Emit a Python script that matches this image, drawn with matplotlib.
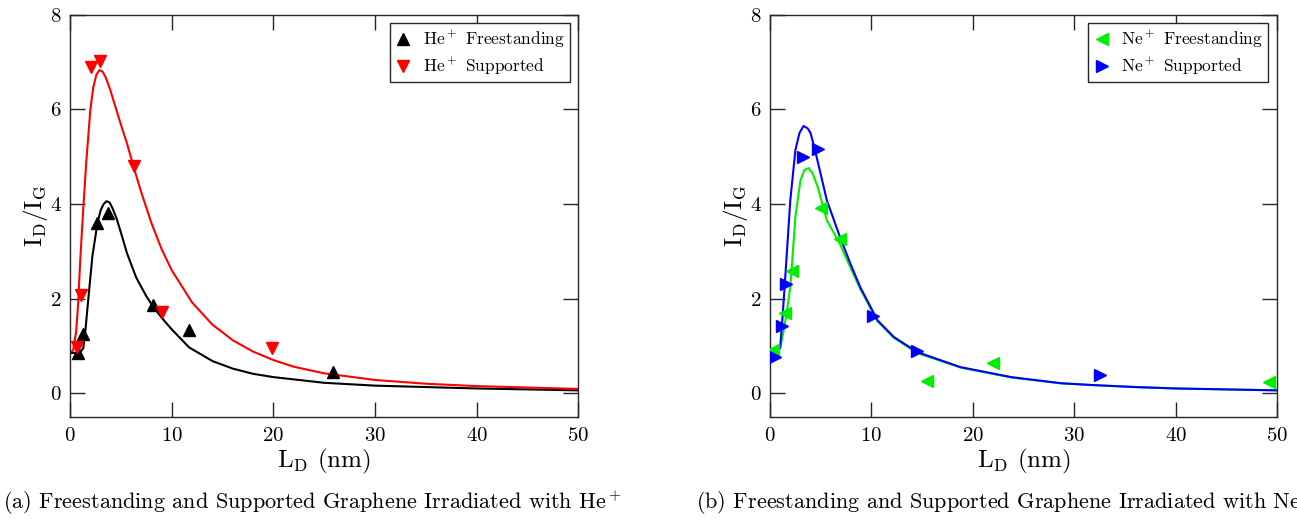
import numpy as np
import matplotlib
matplotlib.use("Agg")
import matplotlib.pyplot as plt
from matplotlib import rcParams

rcParams['font.family'] = 'serif'
rcParams['font.serif'] = ['cmr10']
rcParams['mathtext.fontset'] = 'cm'
rcParams['axes.formatter.use_mathtext'] = True

# ---- data ----
# He+ freestanding (points)
he_free_x = [0.8, 1.3, 2.7, 3.7, 8.2, 11.7, 25.9]
he_free_y = [0.85, 1.25, 3.6, 3.82, 1.86, 1.33, 0.44]
# He+ supported (points)
he_sup_x = [0.7, 1.1, 2.1, 2.9, 6.3, 9.0, 19.9]
he_sup_y = [0.97, 2.07, 6.9, 7.03, 4.8, 1.72, 0.95]

# He fits
he_free_fit_x = [0, 0.5, 1.0, 1.3, 1.5, 1.8, 2.2, 2.7, 3.0, 3.3, 3.6, 3.9, 4.2, 4.6, 5.0, 5.6, 6.5,
                 7.5, 8.2, 9.0, 10, 11.7, 14, 16, 18, 20, 25, 30, 35, 40, 45, 50]
he_free_fit_y = [0.85, 0.85, 0.87, 0.95, 1.3, 2.0, 2.9, 3.6, 3.86, 4.0, 4.06, 4.03, 3.9, 3.68, 3.4, 2.96, 2.45,
                 2.05, 1.82, 1.6, 1.35, 0.97, 0.68, 0.52, 0.41, 0.34, 0.22, 0.16, 0.13, 0.1, 0.08, 0.06]
he_sup_fit_x = [0, 0.3, 0.6, 0.8, 1.0, 1.3, 1.6, 2.0, 2.3, 2.6, 2.9, 3.2, 3.5, 3.9, 4.4, 5.0, 5.6, 6.3,
                7, 8, 9, 10, 12, 14, 16, 18, 20, 22, 25, 30, 35, 40, 45, 50]
he_sup_fit_y = [0.87, 0.9, 1.3, 1.9, 2.8, 3.9, 4.9, 6.0, 6.48, 6.74, 6.83, 6.8, 6.68, 6.45, 6.1, 5.68, 5.28, 4.75,
                4.25, 3.6, 3.05, 2.6, 1.92, 1.45, 1.12, 0.88, 0.7, 0.56, 0.42, 0.28, 0.2, 0.15, 0.12, 0.09]

# Ne+ freestanding (points)
ne_free_x = [0.3, 1.5, 2.2, 5.0, 6.9, 15.5, 22.0, 49.2]
ne_free_y = [0.91, 1.69, 2.58, 3.91, 3.26, 0.25, 0.63, 0.23]
# Ne+ supported (points)
ne_sup_x = [0.5, 1.2, 1.6, 3.3, 4.7, 10.2, 14.5, 32.5]
ne_sup_y = [0.76, 1.42, 2.3, 5.0, 5.16, 1.63, 0.89, 0.38]

# Ne fits
ne_free_fit_x = [0, 0.5, 1.0, 1.3, 1.6, 2.0, 2.5, 3.0, 3.4, 3.8, 4.2, 4.7, 5.6, 6.9, 8.0, 8.9,
                 10.6, 12.2, 14.5, 18.8, 23.8, 28.7, 32, 36, 40, 45, 50]
ne_free_fit_y = [0.85, 0.88, 0.95, 1.27, 1.65, 2.24, 3.73, 4.5, 4.72, 4.76, 4.65, 4.36, 3.66, 3.15, 2.62, 2.2,
                 1.52, 1.17, 0.85, 0.54, 0.33, 0.21, 0.17, 0.13, 0.1, 0.08, 0.06]
ne_sup_fit_x = [0, 0.5, 1.0, 1.2, 1.5, 2.0, 2.5, 2.9, 3.3, 3.7, 4.0, 4.5, 5.6, 6.9, 8.0, 8.9,
                10.6, 12.2, 14.5, 18.8, 23.8, 28.7, 32, 36, 40, 45, 50]
ne_sup_fit_y = [0.78, 0.8, 0.97, 1.5, 2.45, 4.08, 5.14, 5.5, 5.65, 5.6, 5.5, 5.08, 4.08, 3.3, 2.7, 2.24,
                1.54, 1.19, 0.87, 0.55, 0.34, 0.21, 0.17, 0.13, 0.1, 0.08, 0.06]

XTICKS = [0, 10, 20, 30, 40, 50]
YTICKS = [0, 2, 4, 6, 8]

fig = plt.figure(figsize = (12.97, 5.29), dpi = 100)
ax1 = fig.add_axes([0.054, 0.212, 0.392, 0.76])
ax2 = fig.add_axes([0.5937, 0.212, 0.391, 0.76])


def style(ax):
    ax.set_xlim(0, 50)
    ax.set_ylim(-0.5, 8)
    ax.set_xticks(XTICKS)
    ax.set_yticks(YTICKS)
    ax.tick_params(direction = 'in', length = 11, width = 1.0, top = True, right = True,
                   labelsize = 15, colors = '#262626', labelcolor = 'black')
    ax.tick_params(axis = 'x', pad = 7)
    ax.tick_params(axis = 'y', pad = 6)
    for s in ax.spines.values():
        s.set_color('#262626')
        s.set_linewidth(1.0)
    ax.set_xlabel(r'L$_\mathrm{D}$ (nm)', fontsize = 18, labelpad = 2)
    ax.set_ylabel(r'I$_\mathrm{D}$/I$_\mathrm{G}$', fontsize = 18, labelpad = 0)


# (a) He+
ax1.plot(he_free_fit_x, he_free_fit_y, color = 'black', lw = 1.5, zorder = 2)
ax1.plot(he_sup_fit_x, he_sup_fit_y, color = 'red', lw = 1.5, zorder = 2)
ax1.plot(he_free_x, he_free_y, '^', color = 'black', ms = 9, ls = 'none', label = r'He$^+$ Freestanding', zorder = 3)
ax1.plot(he_sup_x, he_sup_y, 'v', color = 'red', ms = 9, ls = 'none', label = r'He$^+$ Supported', zorder = 3)
style(ax1)

# (b) Ne+
ax2.plot(ne_free_fit_x, ne_free_fit_y, color = '#00ee00', lw = 1.5, zorder = 2)
ax2.plot(ne_sup_fit_x, ne_sup_fit_y, color = 'blue', lw = 1.5, zorder = 2)
ax2.plot(ne_free_x, ne_free_y, '<', color = '#00ee00', ms = 9, ls = 'none', label = r'Ne$^+$ Freestanding', zorder = 3)
ax2.plot(ne_sup_x, ne_sup_y, '>', color = 'blue', ms = 9, ls = 'none', label = r'Ne$^+$ Supported', zorder = 3)
style(ax2)

for ax in (ax1, ax2):
    leg = ax.legend(loc = 'upper right', fontsize = 12.5, frameon = True, fancybox = False,
                    edgecolor = '#262626', framealpha = 1, handlelength = 1.0, handletextpad = 0.6,
                    borderaxespad = 0.5, borderpad = 0.3, labelspacing = 0.3)
    leg.get_frame().set_linewidth(1.0)

# captions, the second one runs off the right edge as in the reference
fig.text(0.002, 0.022, r'(a) Freestanding and Supported Graphene Irradiated with He$^+$',
         fontsize = 16, ha = 'left', va = 'bottom')
fig.text(0.537, 0.022, r'(b) Freestanding and Supported Graphene Irradiated with Ne$^+$',
         fontsize = 16, ha = 'left', va = 'bottom')

plt.savefig('out.png', dpi = 100)
